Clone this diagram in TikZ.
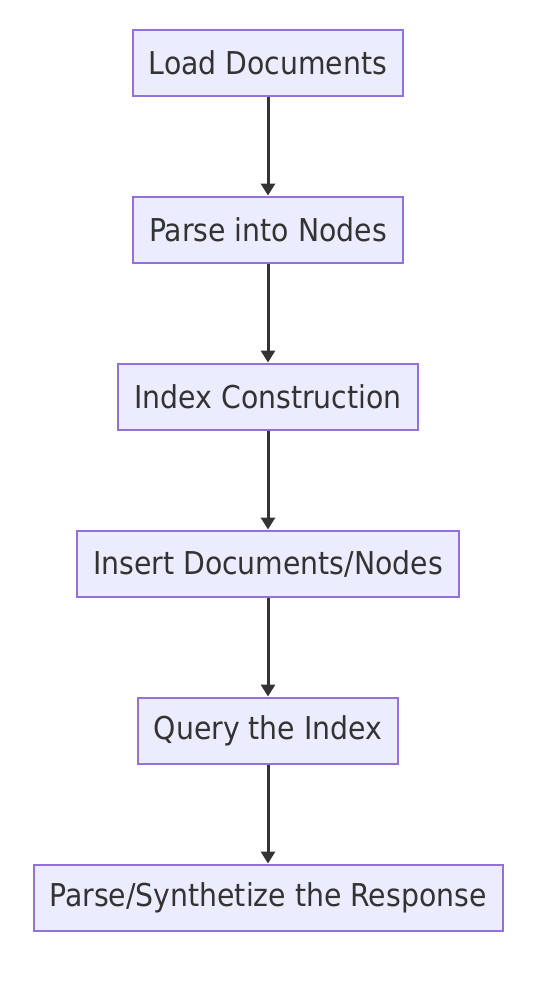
\documentclass[tikz,border=0pt]{standalone}
\usepackage{fontspec}
\setmainfont{DejaVu Sans Condensed}
\usepackage{tikz}
\usetikzlibrary{positioning,arrows.meta}
\definecolor{boxfill}{RGB}{236, 236, 255}
\definecolor{boxline}{RGB}{147, 112, 219}
\definecolor{darkgray}{RGB}{51, 51, 51}
\tikzset{
    stepbox/.style={fill=boxfill, draw=boxline, line width=1.5pt, inner xsep=12pt,
        minimum height=49.5pt, text=darkgray, font=\fontsize{23.6}{27}\selectfont},
    flow/.style={draw=darkgray, line width=2.25pt, -{Triangle[length=9pt,width=10.5pt]}}
}

\begin{document}
\begin{tikzpicture}[node distance=74.25pt]
    \useasboundingbox (0,0) rectangle (406.5pt,-753pt);
    \node[stepbox] (load) at (201pt,-46.9pt) {Load Documents};
    \node[stepbox, below=of load] (parse) {Parse into Nodes};
    \node[stepbox, below=of parse] (index) {Index Construction};
    \node[stepbox, below=of index] (insert) {Insert Documents/Nodes};
    \node[stepbox, below=of insert] (query) {Query the Index};
    \node[stepbox, below=of query] (respond) {Parse/Synthetize the Response};

    \draw[flow] (load) -- (parse);
    \draw[flow] (parse) -- (index);
    \draw[flow] (index) -- (insert);
    \draw[flow] (insert) -- (query);
    \draw[flow] (query) -- (respond);
\end{tikzpicture}
\end{document}
